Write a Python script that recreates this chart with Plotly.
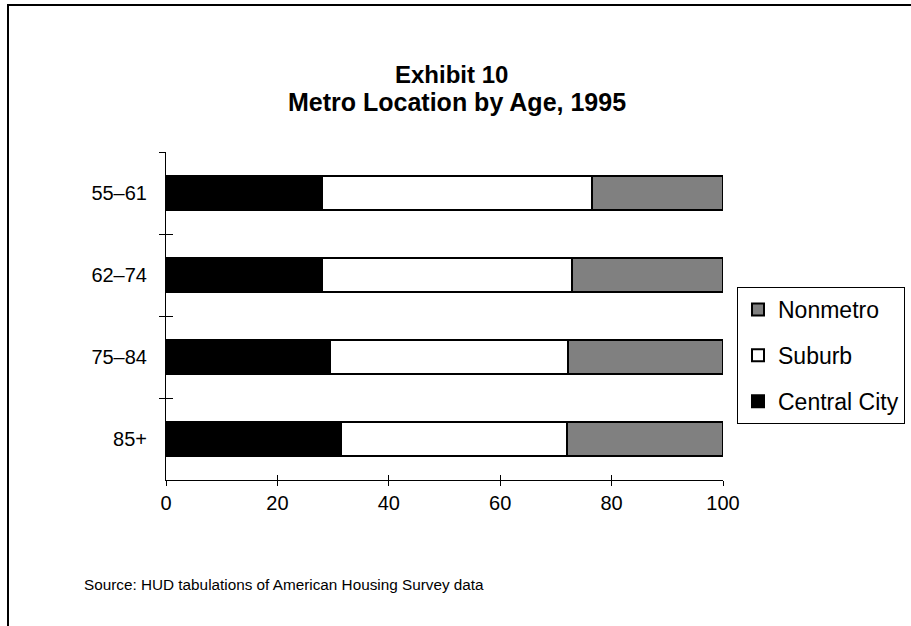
import plotly.graph_objects as go

# age groups, top to bottom
age_groups = ["55–61", "62–74", "75–84", "85+"]

# percent of households in each metro location
central_city = [28.0, 28.0, 29.4, 31.5]
suburb = [48.4, 44.9, 42.7, 40.5]
nonmetro = [23.6, 27.1, 27.9, 28.0]

x_ticks = [0, 20, 40, 60, 80, 100]

# name, values, fill, legend position (top first)
series = [
    ("Central City", central_city, "#000000", 3),
    ("Suburb", suburb, "#ffffff", 2),
    ("Nonmetro", nonmetro, "#808080", 1),
]

FONT = "Liberation Sans, Arial, sans-serif"

# plot area in pixels: x 166..723, y 152..480
L, R, T, B = 166, 723, 152, 480


def px_x(px):
    return (px - L) / (R - L)


def px_y(py):
    return (B - py) / (B - T)


fig = go.Figure()
for name, values, color, rank in series:
    fig.add_trace(go.Bar(
        y=age_groups,
        x=values,
        name=name,
        orientation="h",
        legendgroup=name,
        legendrank=rank,
        marker=dict(color=color, line=dict(color="#000000", width=2)),
    ))

# invisible copy on overlay axes so the ticks can cross the axis lines
fig.add_trace(go.Bar(
    y=age_groups, x=central_city, orientation="h", xaxis="x2", yaxis="y2",
    opacity=0, showlegend=False, hoverinfo="skip",
))

fig.update_layout(
    width=911,
    height=626,
    barmode="stack",
    bargap=0.585,
    paper_bgcolor="#ffffff",
    plot_bgcolor="rgba(0,0,0,0)",
    margin=dict(l=L, r=911 - R, t=T, b=626 - B, autoexpand=False),
    font=dict(family=FONT, size=20, color="#000000"),
    xaxis=dict(
        range=[0, 100],
        tickvals=x_ticks,
        showgrid=False, zeroline=False,
        showline=True, linecolor="#000000", linewidth=1,
        ticks="outside", ticklen=5, tickcolor="#000000",
        tickfont=dict(size=20),
    ),
    xaxis2=dict(
        overlaying="x", anchor="y2", side="bottom",
        range=[0, 100],
        showgrid=False, zeroline=False, showticklabels=False,
        tickvals=x_ticks,
        ticks="inside", ticklen=5, tickcolor="#000000",
    ),
    yaxis=dict(
        type="category",
        categoryorder="array", categoryarray=age_groups,
        autorange="reversed",
        tickson="boundaries",
        showgrid=False, zeroline=False,
        showline=True, linecolor="#000000", linewidth=1,
        ticks="outside", ticklen=6, tickcolor="#000000",
        tickfont=dict(size=20),
        ticklabelstandoff=14,
    ),
    yaxis2=dict(
        type="category", overlaying="y", anchor="x2", side="left",
        categoryorder="array", categoryarray=age_groups,
        autorange="reversed",
        tickson="boundaries",
        showgrid=False, zeroline=False, showticklabels=False,
        ticks="inside", ticklen=7, tickcolor="#000000",
    ),
    legend=dict(
        x=px_x(905), xanchor="right",
        y=px_y(287), yanchor="top",
        traceorder="grouped",
        tracegroupgap=13,
        bordercolor="#000000", borderwidth=1,
        bgcolor="#ffffff",
        font=dict(family=FONT, size=23),
    ),
    shapes=[dict(
        type="rect", xref="paper", yref="paper",
        x0=px_x(8), x1=px_x(940),
        y0=px_y(5), y1=px_y(660),
        line=dict(color="#000000", width=2),
        fillcolor="rgba(0,0,0,0)", layer="below",
    )],
    annotations=[
        dict(
            text="<b>Exhibit 10</b>",
            xref="paper", yref="paper",
            x=px_x(451), xanchor="center",
            y=px_y(75), yanchor="middle",
            showarrow=False,
            font=dict(family=FONT, size=24, color="#000000"),
        ),
        dict(
            text="<b>Metro Location by Age, 1995</b>",
            xref="paper", yref="paper",
            x=px_x(457), xanchor="center",
            y=px_y(102), yanchor="middle",
            showarrow=False,
            font=dict(family=FONT, size=25, color="#000000"),
        ),
        dict(
            text="Source: HUD tabulations of American Housing Survey data",
            xref="paper", yref="paper",
            x=px_x(82), xanchor="left",
            y=px_y(584), yanchor="middle",
            showarrow=False,
            font=dict(family=FONT, size=15.3, color="#000000"),
        ),
    ],
)

fig.write_html(
    "out.html",
    config={"displayModeBar": False},
    post_script="document.body.style.margin = '0';",
)
